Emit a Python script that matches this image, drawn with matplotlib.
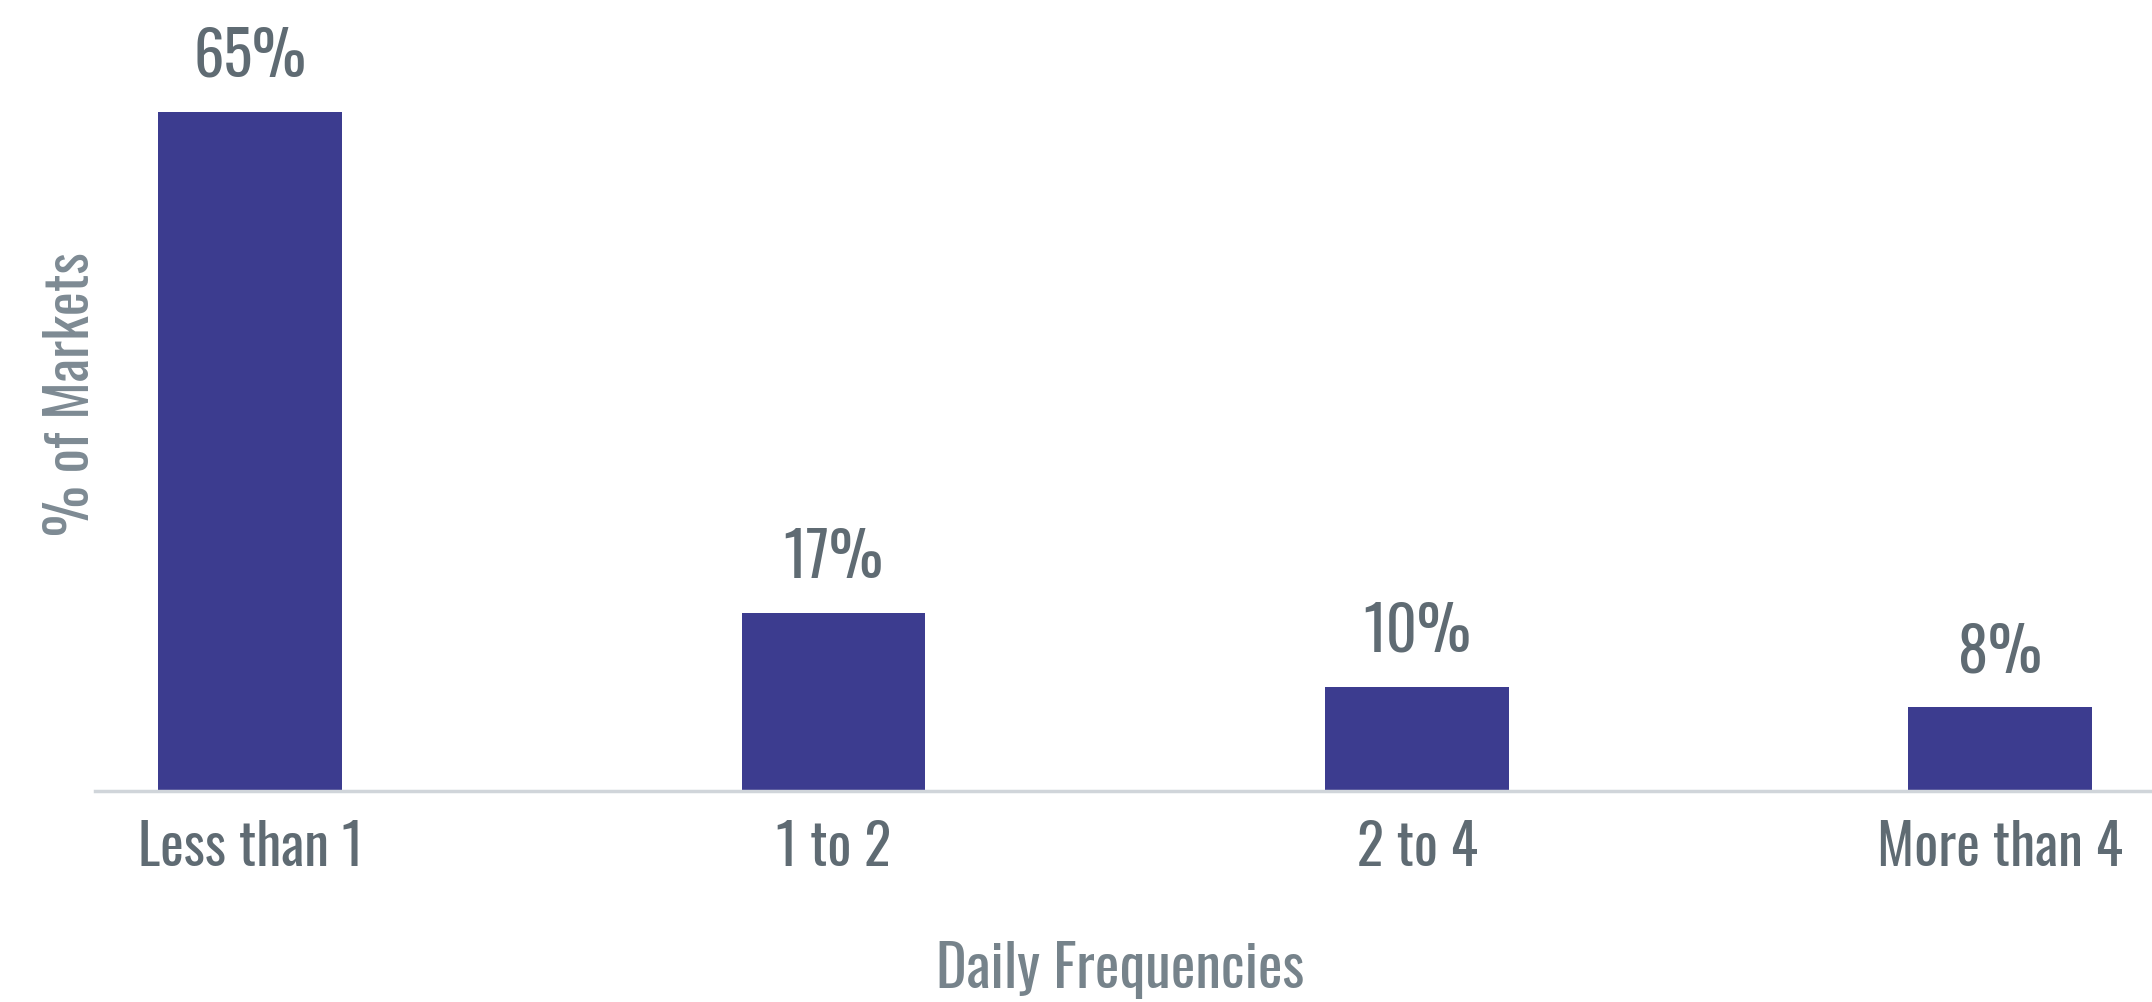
import matplotlib
matplotlib.use("Agg")
import matplotlib.pyplot as plt
from matplotlib import font_manager

categories = ["Less than 1", "1 to 2", "2 to 4", "More than 4"]
shares = [65, 17, 10, 8]
value_labels = ["65%", "17%", "10%", "8%"]

# pick a condensed face if one is installed
names = {f.name for f in font_manager.fontManager.ttflist}
family = "DejaVu Sans"
for cand in ["Oswald", "Roboto Condensed", "Archivo Narrow", "Asap Condensed"]:
    if cand in names:
        family = cand
        break
plt.rcParams["font.family"] = [family, "DejaVu Sans"]

fig = plt.figure(figsize=(21.52, 10.03), dpi=100)
ax = fig.add_axes([95 / 2152, 1 - 792 / 1003, 1 - 95 / 2152, 792 / 1003])

x = range(len(categories))
ax.bar(x, shares, width=0.315, color="#3c3c8f")
for xi, v, lab in zip(x, shares, value_labels):
    ax.text(xi, v + 2.4, lab, ha="center", va="bottom", fontsize=43.5,
            color="#5f6b73", fontweight="semibold")

ax.set_xlim(-0.266, 3.26)
ax.set_ylim(0, 75.8)
ax.set_xticks(list(x))
ax.set_xticklabels(categories, fontsize=40.5, color="#5f6b73", fontweight="light")
ax.tick_params(axis="x", length=0, pad=20)
ax.set_yticks([])
for s in ["top", "right", "left"]:
    ax.spines[s].set_visible(False)
ax.spines["bottom"].set_color("#d0d5da")
ax.spines["bottom"].set_linewidth(2.5)

fig.text(0.5205, 1 - 988 / 1003, "Daily Frequencies", ha="center", va="baseline",
         fontsize=42, color="#76838b", fontweight="light")
fig.text(0.033, 0.607, "% of Markets", rotation=90, ha="center", va="center",
         fontsize=41, color="#7d8a93", fontweight="light")

fig.savefig("out.png", dpi=100)
